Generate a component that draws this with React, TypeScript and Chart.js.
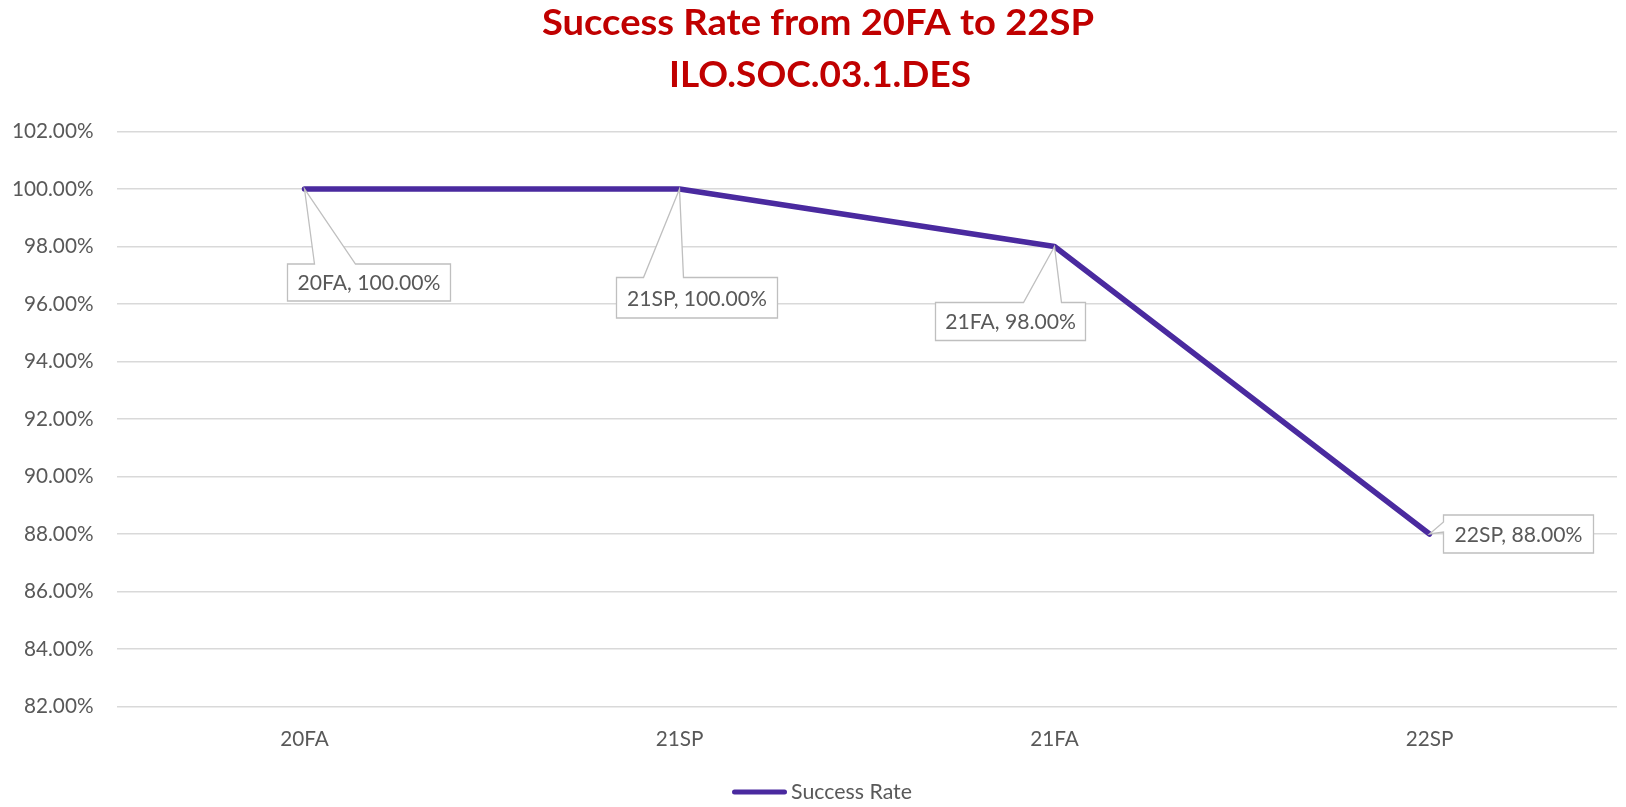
import React, { useEffect, useRef } from 'react';
import { Chart, registerables } from 'chart.js';

Chart.register(...registerables);

// ---------- data ----------
const categories: string[] = ['20FA', '21SP', '21FA', '22SP'];
const successRate: number[] = [100, 100, 98, 88];
const seriesName = 'Success Rate';
const titleLines: string[] = ['Success Rate from 20FA to 22SP', 'ILO.SOC.03.1.DES'];
const yMin = 82;
const yMax = 102;
const yStep = 2;

// ---------- style ----------
const LINE_COLOR = '#4A2A9F';
const TEXT_GREY = '#595959';
const GRID_GREY = '#D9D9D9';
const TITLE_RED = '#C00000';
const FONT = 'Lato, "Open Sans", sans-serif';

// callout boxes, offsets relative to their data point (pixels)
const calloutStyle = [
  { l: -17, r: 146, t: 75, b: 112, side: 'top', w1: 10, w2: 51 },
  { l: -63, r: 98, t: 88.5, b: 129, side: 'top', w1: -36, w2: 4 },
  { l: -119, r: 31, t: 56, b: 94, side: 'top', w1: -31, w2: 7 },
  { l: 14, r: 164, t: -19, b: 19, side: 'left', w1: -12, w2: -2 },
];

const titleStyle = { cx: [818, 820], baselines: [35, 87], widths: [552, 302], size: 36 };
const legendStyle = { cx: 822, cy: 792, lineLen: 55, gap: 4 };

function fitSize(text: string, weight: string, targetW: number): number {
  const c = document.createElement('canvas').getContext('2d');
  if (!c) return 20;
  c.font = `${weight} 20px ${FONT}`;
  const w = c.measureText(text).width;
  return w > 0 ? (20 * targetW) / w : 20;
}

export default function App() {
  const canvasRef = useRef<HTMLCanvasElement | null>(null);

  useEffect(() => {
    if (!canvasRef.current) return;
    const tickSize = fitSize('100.00%', 'normal', 81.6);
    const labelSize = fitSize('20FA, 100.00%', 'normal', 143);
    const legendSize = fitSize('Success Rate', 'normal', 121);

    const titlePlugin = {
      id: 'customTitle',
      afterDraw(chart: any) {
        const ctx = chart.ctx as CanvasRenderingContext2D;
        ctx.save();
        ctx.fillStyle = TITLE_RED;
        ctx.font = `bold ${titleStyle.size}px ${FONT}`;
        ctx.textAlign = 'center';
        ctx.textBaseline = 'alphabetic';
        titleLines.forEach((t, i) => {
          const w = ctx.measureText(t).width;
          const sx = titleStyle.widths[i] / w;
          ctx.save();
          ctx.translate(titleStyle.cx[i], titleStyle.baselines[i]);
          ctx.scale(sx, 1);
          ctx.fillText(t, 0, 0);
          ctx.restore();
        });
        ctx.restore();
      },
    };

    const legendPlugin = {
      id: 'customLegend',
      afterDraw(chart: any) {
        const ctx = chart.ctx as CanvasRenderingContext2D;
        const ds = chart.data.datasets[0];
        ctx.save();
        ctx.font = `${legendSize}px ${FONT}`;
        const tw = ctx.measureText(ds.label).width;
        const total = legendStyle.lineLen + legendStyle.gap + tw;
        const x0 = legendStyle.cx - total / 2;
        ctx.strokeStyle = ds.borderColor;
        ctx.lineWidth = 5;
        ctx.lineCap = 'round';
        ctx.beginPath();
        ctx.moveTo(x0 + 2.5, legendStyle.cy);
        ctx.lineTo(x0 + legendStyle.lineLen - 2.5, legendStyle.cy);
        ctx.stroke();
        ctx.fillStyle = TEXT_GREY;
        ctx.textAlign = 'left';
        ctx.textBaseline = 'middle';
        ctx.fillText(ds.label, x0 + legendStyle.lineLen + legendStyle.gap, legendStyle.cy);
        ctx.restore();
      },
    };

    const calloutPlugin = {
      id: 'callouts',
      afterDatasetsDraw(chart: any) {
        const ctx = chart.ctx as CanvasRenderingContext2D;
        const meta = chart.getDatasetMeta(0);
        const values = chart.data.datasets[0].data as number[];
        meta.data.forEach((pt: any, i: number) => {
          const s = calloutStyle[i];
          if (!s) return;
          const px = pt.x;
          const py = pt.y;
          const L = px + s.l, R = px + s.r, T = py + s.t, B = py + s.b;
          ctx.save();
          ctx.beginPath();
          if (s.side === 'top') {
            ctx.moveTo(L, T);
            ctx.lineTo(px + s.w1, T);
            ctx.lineTo(px, py);
            ctx.lineTo(px + s.w2, T);
            ctx.lineTo(R, T);
            ctx.lineTo(R, B);
            ctx.lineTo(L, B);
            ctx.closePath();
          } else {
            ctx.moveTo(L, T);
            ctx.lineTo(R, T);
            ctx.lineTo(R, B);
            ctx.lineTo(L, B);
            ctx.lineTo(L, py + s.w2);
            ctx.lineTo(px, py);
            ctx.lineTo(L, py + s.w1);
            ctx.closePath();
          }
          ctx.fillStyle = '#FFFFFF';
          ctx.fill();
          ctx.strokeStyle = '#BFBFBF';
          ctx.lineWidth = 1.3;
          ctx.stroke();
          ctx.fillStyle = TEXT_GREY;
          ctx.font = `${labelSize}px ${FONT}`;
          ctx.textAlign = 'center';
          ctx.textBaseline = 'middle';
          const label = `${chart.data.labels[i]}, ${values[i].toFixed(2)}%`;
          ctx.fillText(label, (L + R) / 2, (T + B) / 2 + 1);
          ctx.restore();
        });
      },
    };

    const chart = new Chart(canvasRef.current, {
      type: 'line',
      data: {
        labels: categories,
        datasets: [
          {
            label: seriesName,
            data: successRate,
            borderColor: LINE_COLOR,
            backgroundColor: LINE_COLOR,
            borderWidth: 5.5,
            borderCapStyle: 'round',
            borderJoinStyle: 'round',
            pointRadius: 0,
            pointHoverRadius: 0,
            tension: 0,
            fill: false,
          },
        ],
      },
      options: {
        animation: false,
        responsive: true,
        maintainAspectRatio: false,
        layout: { padding: { top: 131.5, right: 9, bottom: 50.5, left: 0 } },
        plugins: {
          legend: { display: false },
          title: { display: false },
          tooltip: { enabled: false },
        },
        scales: {
          x: {
            offset: true,
            grid: { display: false, drawTicks: false },
            border: { display: false },
            ticks: {
              color: TEXT_GREY,
              font: { family: FONT, size: tickSize },
              padding: 20,
              maxRotation: 0,
            },
            afterFit(scale: any) {
              scale.height = 50;
            },
          },
          y: {
            min: yMin,
            max: yMax,
            grid: { color: GRID_GREY, lineWidth: 1.5, drawTicks: false },
            border: { display: false },
            ticks: {
              stepSize: yStep,
              color: TEXT_GREY,
              font: { family: FONT, size: tickSize },
              padding: 23.5,
              callback: (v: any) => `${Number(v).toFixed(2)}%`,
            },
            afterFit(scale: any) {
              scale.width = 117;
            },
          },
        },
      },
      plugins: [calloutPlugin, titlePlugin, legendPlugin],
    } as any);
    return () => chart.destroy();
  }, []);

  return (
    <div style={{ position: 'fixed', left: 0, top: 0, width: 1626, height: 807, background: '#FFFFFF' }}>
      <canvas ref={canvasRef} />
    </div>
  );
}
